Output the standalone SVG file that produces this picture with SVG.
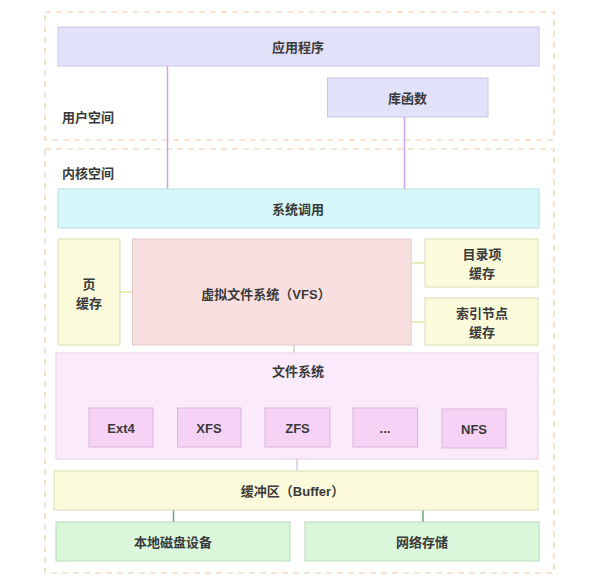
<svg xmlns="http://www.w3.org/2000/svg" width="600" height="588" viewBox="0 0 600 588">
<style>
text{font-family:"Liberation Sans","Noto Sans CJK SC",sans-serif;font-size:13px;font-weight:600;fill:#3a3a3a;text-anchor:middle;dominant-baseline:central}
.lbl{text-anchor:start}
.zone{fill:none;stroke:#f5cba8;stroke-width:1.2;stroke-dasharray:6 5}
.lav{fill:#e2e1fa;stroke:#c9c7ea}
.cyan{fill:#d7f8fb;stroke:#b8dde1}
.yel{fill:#fbfadb;stroke:#dcdcb8}
.pink{fill:#f9dfe0;stroke:#e2c6c7}
.fs{fill:#fbeafb;stroke:#e6cfe6}
.sub{fill:#f6d2f6;stroke:#d9b5d9}
.grn{fill:#daf7dc;stroke:#b7d9ba}
</style>
<rect width="600" height="588" fill="#fff"/>
<g id="user-space"><rect class="zone" x="45" y="12" width="509" height="128"/><text class="lbl" x="62" y="117">用户空间</text></g>
<g id="kernel-space"><rect class="zone" x="45" y="149" width="509" height="424"/><text class="lbl" x="62" y="173">内核空间</text></g>
<g id="connectors" fill="none">
<line x1="167.5" y1="66" x2="167.5" y2="189" stroke="#c8a2f0" stroke-width="1.5"/>
<line x1="404.5" y1="117" x2="404.5" y2="189" stroke="#c8a2f0" stroke-width="1.5"/>
<line x1="120" y1="292" x2="132.5" y2="292" stroke="#e2e6a6" stroke-width="1.5"/>
<line x1="411" y1="263" x2="425" y2="263" stroke="#e2e6a6" stroke-width="1.5"/>
<line x1="411" y1="322" x2="425" y2="322" stroke="#e2e6a6" stroke-width="1.5"/>
<line x1="294" y1="345" x2="294" y2="353" stroke="#e6bfd0" stroke-width="1.5"/>
<line x1="297" y1="459" x2="297" y2="471" stroke="#e6bfe6" stroke-width="1.5"/>
<line x1="173.5" y1="510" x2="173.5" y2="522" stroke="#6aa870" stroke-width="1.5"/>
<line x1="423" y1="510" x2="423" y2="522" stroke="#6aa870" stroke-width="1.5"/>
</g>
<g id="app"><rect class="lav" x="58" y="27" width="481" height="39"/><text x="298" y="47">应用程序</text></g>
<g id="lib"><rect class="lav" x="327.5" y="78" width="160.5" height="39"/><text x="407.5" y="98">库函数</text></g>
<g id="syscall"><rect class="cyan" x="58" y="189" width="481" height="39"/><text x="298" y="209">系统调用</text></g>
<g id="page-cache"><rect class="yel" x="58" y="239" width="62" height="106"/><text x="89" y="284">页</text><text x="89" y="303">缓存</text></g>
<g id="vfs"><rect class="pink" x="132.5" y="239" width="278.5" height="106"/><text x="266" y="294">虚拟文件系统（VFS）</text></g>
<g id="dentry-cache"><rect class="yel" x="425" y="239" width="113" height="48"/><text x="482" y="254">目录项</text><text x="482" y="273">缓存</text></g>
<g id="inode-cache"><rect class="yel" x="425" y="298" width="113" height="47"/><text x="482" y="313">索引节点</text><text x="482" y="332">缓存</text></g>
<g id="filesystem"><rect class="fs" x="56" y="353" width="482" height="106"/><text x="298" y="371">文件系统</text></g>
<g id="ext4"><rect class="sub" x="89" y="408" width="64" height="39"/><text x="121" y="428">Ext4</text></g>
<g id="xfs"><rect class="sub" x="177.5" y="408" width="63.5" height="39"/><text x="209" y="428">XFS</text></g>
<g id="zfs"><rect class="sub" x="265" y="408" width="65" height="39"/><text x="297.5" y="428">ZFS</text></g>
<g id="etc"><rect class="sub" x="353" y="408" width="64.5" height="39"/><text x="385" y="428">...</text></g>
<g id="nfs"><rect class="sub" x="442" y="409" width="64" height="39"/><text x="474" y="429">NFS</text></g>
<g id="buffer"><rect class="yel" x="54" y="471" width="484" height="39"/><text x="292.5" y="491">缓冲区（Buffer）</text></g>
<g id="local-disk"><rect class="grn" x="56" y="522" width="234" height="39"/><text x="173" y="542">本地磁盘设备</text></g>
<g id="net-storage"><rect class="grn" x="305" y="522" width="234" height="39"/><text x="422" y="542">网络存储</text></g>
</svg>
